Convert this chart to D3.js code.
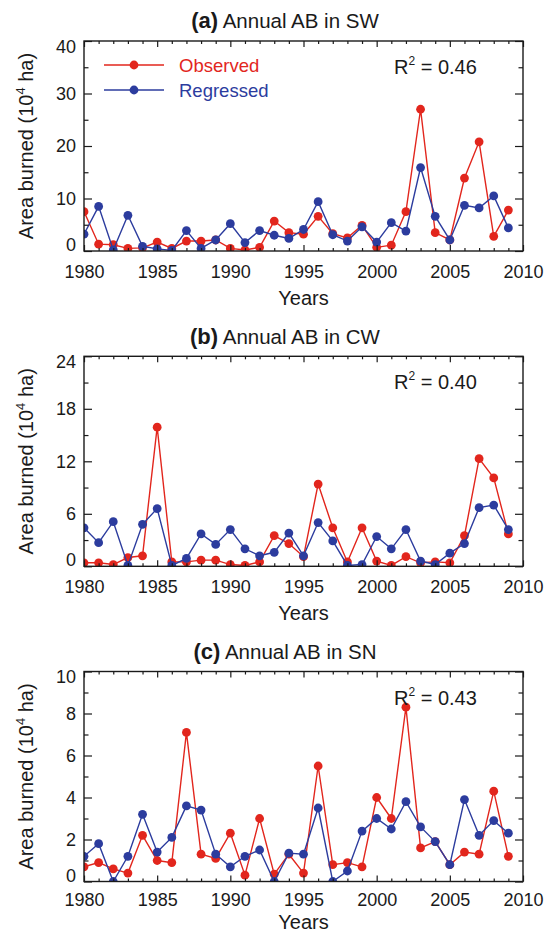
<!DOCTYPE html>
<html>
<head>
<meta charset="utf-8">
<script src="https://cdn.jsdelivr.net/npm/d3@7"></script>
<style>
body { margin: 0; background: #fff; }
svg text { font-family: "Liberation Sans", Arial, Helvetica, sans-serif; fill: #1a1a1a; }
</style>
</head>
<body>
<div id="chart"></div>
<script>

const years = [1980, 1981, 1982, 1983, 1984, 1985, 1986, 1987, 1988, 1989,
               1990, 1991, 1992, 1993, 1994, 1995, 1996, 1997, 1998, 1999,
               2000, 2001, 2002, 2003, 2004, 2005, 2006, 2007, 2008, 2009];

// area burned, 10^4 ha
const swObs = [7.5, 1.3, 1.2, 0.5, 0.6, 1.7, 0.5, 1.9, 1.9, 2.1, 0.5, 0.2, 0.7, 5.7, 3.5,
               3.2, 6.6, 3.3, 2.5, 4.9, 0.7, 1.1, 7.5, 27.0, 3.5, 2.1, 13.9, 20.8, 2.8, 7.8];
const swReg = [3.2, 8.5, 0.2, 6.8, 0.9, 0.4, 0.1, 3.9, 0.5, 2.1, 5.2, 1.6, 3.9, 3.0, 2.4,
               4.1, 9.4, 3.1, 1.9, 4.6, 1.7, 5.4, 3.8, 15.9, 6.6, 2.1, 8.7, 8.2, 10.5, 4.4];

const cwObs = [0.4, 0.4, 0.2, 1.0, 1.2, 15.9, 0.5, 0.5, 0.7, 0.7, 0.2, 0.1, 0.5, 3.5, 2.6,
               1.1, 9.4, 4.4, 0.5, 4.4, 0.6, 0.1, 1.1, 0.4, 0.5, 0.4, 3.5, 12.3, 10.1, 3.7];
const cwReg = [4.4, 2.7, 5.1, 0.1, 4.8, 6.6, 0.1, 0.9, 3.7, 2.5, 4.2, 2.0, 1.2, 1.6, 3.8,
               1.2, 5.0, 2.9, 0.1, 0.2, 3.4, 2.0, 4.2, 0.6, 0.2, 1.5, 2.6, 6.7, 7.0, 4.2];

const snObs = [0.7, 0.9, 0.6, 0.4, 2.2, 1.0, 0.9, 7.1, 1.3, 1.1, 2.3, 0.3, 3.0, 0.35, 1.3,
               0.4, 5.5, 0.8, 0.9, 0.7, 4.0, 3.0, 8.3, 1.6, 1.9, 0.8, 1.4, 1.3, 4.3, 1.2];
const snReg = [1.2, 1.8, 0.0, 1.2, 3.2, 1.4, 2.1, 3.6, 3.4, 1.3, 0.7, 1.2, 1.5, 0.0, 1.35,
               1.3, 3.5, 0.0, 0.5, 2.4, 3.0, 2.5, 3.8, 2.6, 1.9, 0.8, 3.9, 2.2, 2.9, 2.3];

const xTicks = [1980, 1985, 1990, 1995, 2000, 2005, 2010];
const swTicks = [0, 10, 20, 30, 40], swMinor = [5, 15, 25, 35];
const cwTicks = [0, 6, 12, 18, 24], cwMinor = [3, 9, 15, 21];
const snTicks = [0, 2, 4, 6, 8, 10], snMinor = [1, 3, 5, 7, 9];

const panelLabels = ['(a)', '(b)', '(c)'];
const regions = ['SW', 'CW', 'SN'];
const r2Values = ['0.46', '0.40', '0.43'];
const seriesNames = ['Observed', 'Regressed'];

const obsColor = '#e2261d';
const regColor = '#2c3c9e';

const width = 549;
const height = 937;

const panels = [
    {obs: swObs, reg: swReg, max: 40, major: swTicks, minor: swMinor},
    {obs: cwObs, reg: cwReg, max: 24, major: cwTicks, minor: cwMinor},
    {obs: snObs, reg: snReg, max: 10, major: snTicks, minor: snMinor}
];

const svg = d3.select('#chart')
    .append('svg')
    .attr('width', width)
    .attr('height', height);

const plotH = 210;
const tops = [41, 356.3, 671.5];
// last panel sits against the page bottom, so its x labels are packed tighter
const xPad = [14, 14, 12];
const xTitleOffset = [53.5, 53.5, 47.5];

const x = d3.scaleLinear()
    .domain([1980, 2010])
    .range([84, 523]);

const xMinor = d3.range(1980, 2011).filter(d => d % 5 != 0);

const drawPanel = (p, i) => {

    const top = tops[i];
    const g = svg.append('g').attr('transform', `translate(0,${top})`);

    const y = d3.scaleLinear()
        .domain([0, p.max])
        .range([plotH, 0]);

    // clip so markers sitting on zero get cut by the frame
    g.append('clipPath')
        .attr('id', 'clip' + i)
        .append('rect')
        .attr('x', x(1980))
        .attr('y', 0)
        .attr('width', x(2010) - x(1980))
        .attr('height', plotH);

    const line = d3.line()
        .x((d, j) => x(years[j]))
        .y(d => y(d));

    const data = g.append('g').attr('clip-path', `url(#clip${i})`);

    const series = [[p.obs, obsColor], [p.reg, regColor]];
    series.forEach(([vals, col]) => {
        data.append('path')
            .datum(vals)
            .attr('fill', 'none')
            .attr('stroke', col)
            .attr('stroke-width', 1.4)
            .attr('d', line);
        data.selectAll(null)
            .data(vals)
            .join('circle')
            .attr('cx', (d, j) => x(years[j]))
            .attr('cy', d => y(d))
            .attr('r', 4.4)
            .attr('fill', col);
    });

    // axes, ticks pointing inwards
    const axisStyle = (sel) => {
        sel.select('.domain').remove();
        sel.selectAll('line').attr('stroke', '#1a1a1a').attr('stroke-width', 1.2);
        sel.selectAll('text').attr('font-size', 18).attr('fill', '#1a1a1a');
    };

    g.append('g')
        .attr('transform', `translate(0,${plotH})`)
        .call(d3.axisBottom(x).tickValues(xTicks).tickFormat(d3.format('d')).tickSize(-6).tickPadding(xPad[i]))
        .call(axisStyle);
    g.append('g')
        .attr('transform', `translate(0,${plotH})`)
        .call(d3.axisBottom(x).tickValues(xMinor).tickFormat('').tickSize(-3))
        .call(axisStyle);
    g.append('g')
        .call(d3.axisTop(x).tickValues(xTicks).tickFormat('').tickSize(-6))
        .call(axisStyle);
    g.append('g')
        .call(d3.axisTop(x).tickValues(xMinor).tickFormat('').tickSize(-3))
        .call(axisStyle);

    const yl = g.append('g')
        .attr('transform', `translate(${x(1980)},0)`)
        .call(d3.axisLeft(y).tickValues(p.major).tickSize(-8).tickPadding(8))
        .call(axisStyle);
    // end labels are nudged inside the frame
    yl.selectAll('text')
        .attr('dy', d => d == 0 ? '-0.02em' : (d == p.max ? '0.62em' : '0.32em'));

    g.append('g')
        .attr('transform', `translate(${x(1980)},0)`)
        .call(d3.axisLeft(y).tickValues(p.minor).tickFormat('').tickSize(-4.5))
        .call(axisStyle);
    g.append('g')
        .attr('transform', `translate(${x(2010)},0)`)
        .call(d3.axisRight(y).tickValues(p.major).tickFormat('').tickSize(-8))
        .call(axisStyle);
    g.append('g')
        .attr('transform', `translate(${x(2010)},0)`)
        .call(d3.axisRight(y).tickValues(p.minor).tickFormat('').tickSize(-4.5))
        .call(axisStyle);

    g.append('rect')
        .attr('x', x(1980))
        .attr('y', 0)
        .attr('width', x(2010) - x(1980))
        .attr('height', plotH)
        .attr('fill', 'none')
        .attr('stroke', '#1a1a1a')
        .attr('stroke-width', 1.4);

    // title
    const title = g.append('text')
        .attr('x', 285)
        .attr('y', -12.7)
        .attr('text-anchor', 'middle');
    title.append('tspan')
        .attr('font-weight', 'bold')
        .attr('font-size', 22)
        .text(panelLabels[i]);
    title.append('tspan')
        .attr('font-size', 20.5)
        .text(' Annual AB in ' + regions[i]);

    // R^2
    const r2 = g.append('text')
        .attr('x', 394)
        .attr('y', 33)
        .attr('font-size', 20);
    r2.append('tspan').text('R');
    r2.append('tspan').attr('font-size', 12).attr('dy', -9).text('2');
    r2.append('tspan').attr('dy', 9).text(' = ' + r2Values[i]);

    // axis titles
    g.append('text')
        .attr('x', (x(1980) + x(2010)) / 2)
        .attr('y', plotH + xTitleOffset[i])
        .attr('text-anchor', 'middle')
        .attr('font-size', 20)
        .text('Years');

    const yt = g.append('text')
        .attr('transform', `translate(33,${plotH / 2}) rotate(-90)`)
        .attr('text-anchor', 'middle')
        .attr('font-size', 20);
    yt.append('tspan').text('Area burned (10');
    yt.append('tspan').attr('font-size', 13).attr('dy', -8).text('4');
    yt.append('tspan').attr('dy', 8).text(' ha)');

    if (i == 0) {
        const cols = [obsColor, regColor];
        const lg = g.selectAll('.legend')
            .data(seriesNames)
            .join('g')
            .attr('class', 'legend')
            .attr('transform', (d, k) => `translate(0,${24 + k * 25})`);
        lg.append('line')
            .attr('x1', 104).attr('x2', 164)
            .attr('stroke', (d, k) => cols[k])
            .attr('stroke-width', 1.4);
        lg.append('circle')
            .attr('cx', 134)
            .attr('r', 4.4)
            .attr('fill', (d, k) => cols[k]);
        lg.append('text')
            .attr('x', 179)
            .attr('y', 6.5)
            .attr('font-size', 18.5)
            .style('fill', (d, k) => cols[k])
            .text(d => d);
    }
}

panels.forEach(drawPanel);

</script>
</body>
</html>
